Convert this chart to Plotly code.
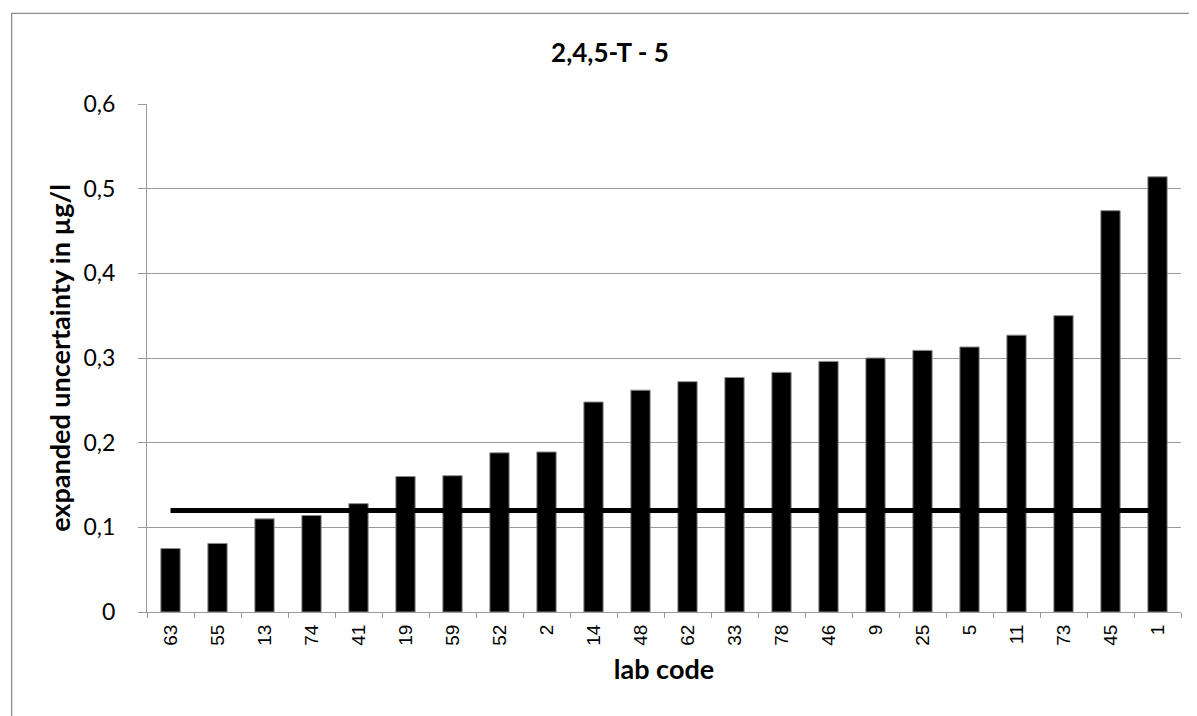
import plotly.graph_objects as go

# ---- data ----
lab_codes = ["63", "55", "13", "74", "41", "19", "59", "52", "2", "14", "48",
             "62", "33", "78", "46", "9", "25", "5", "11", "73", "45", "1"]
expanded_uncertainty = [0.075, 0.081, 0.110, 0.114, 0.128, 0.160, 0.161, 0.188,
                        0.189, 0.248, 0.262, 0.272, 0.277, 0.283, 0.296, 0.300,
                        0.309, 0.313, 0.327, 0.350, 0.474, 0.514]
reference_line = [0.12, 0.12, 0.12, 0.12, 0.12, 0.12, 0.12, 0.12, 0.12, 0.12, 0.12,
                  0.12, 0.12, 0.12, 0.12, 0.12, 0.12, 0.12, 0.12, 0.12, 0.12, 0.12]
y_tick_values = [0, 0.1, 0.2, 0.3, 0.4, 0.5, 0.6]
y_tick_labels = ["0", "0,1", "0,2", "0,3", "0,4", "0,5", "0,6"]

title_text = "2,4,5-T - 5"
x_title = "lab code"
y_title = "expanded uncertainty in µg/l"

# ---- layout geometry (pixels) ----
W, H = 1197, 716
plot_left, plot_right = 139.3, 1172.7
plot_top, plot_bottom = 95.7, 604.3
plot_w = plot_right - plot_left
plot_h = plot_bottom - plot_top

GRAY = "#9a9a9a"
FONT = "Lato"

fig = go.Figure()
fig.add_trace(go.Bar(
    x=lab_codes, y=expanded_uncertainty,
    marker=dict(color="black", line=dict(color="#8c8c8c", width=1)),
    showlegend=False,
))
fig.add_trace(go.Scatter(
    x=lab_codes, y=reference_line, mode="lines",
    line=dict(color="black", width=5),
    showlegend=False,
))

def px_x(x):
    return (x - plot_left) / plot_w

def px_y(y):
    return (plot_bottom - y) / plot_h

fig.update_layout(
    width=W, height=H,
    margin=dict(l=plot_left, r=W - plot_right, t=plot_top, b=H - plot_bottom, pad=0),
    paper_bgcolor="white", plot_bgcolor="white",
    bargap=0.59,
    title=dict(text=f"<b>{title_text}</b>", x=px_x(602), xref="paper",
               y=1 - 45 / H, yref="container", xanchor="center", yanchor="middle",
               font=dict(family=FONT, size=26, color="black")),
    xaxis=dict(
        type="category", tickson="boundaries", ticks="outside", ticklen=5,
        tickcolor=GRAY, tickwidth=1, showline=True, linecolor=GRAY, linewidth=1,
        showgrid=False, tickangle=-90,
        tickfont=dict(family="Liberation Sans", size=19, color="black"),
        ticklabelstandoff=4,
        title=dict(text=f"<b>{x_title}</b>", standoff=15,
                   font=dict(family=FONT, size=27, color="black")),
        fixedrange=True,
    ),
    yaxis=dict(
        range=[0, 0.6], tickvals=y_tick_values, ticktext=y_tick_labels,
        ticks="outside", ticklen=8, tickcolor=GRAY, tickwidth=1,
        showline=True, linecolor=GRAY, linewidth=1,
        showgrid=True, gridcolor=GRAY, gridwidth=1.2, zeroline=False,
        tickfont=dict(family=FONT, size=23, color="black"),
        ticklabelstandoff=18,
        title=dict(text=f"<b>{y_title}</b>", standoff=5,
                   font=dict(family=FONT, size=27, color="black")),
        fixedrange=True,
    ),
    shapes=[dict(type="rect", xref="paper", yref="paper",
                 x0=px_x(4), x1=px_x(W + 10), y0=px_y(5), y1=px_y(H + 10),
                 line=dict(color="#8c8c8c", width=1.3), fillcolor="rgba(0,0,0,0)",
                 layer="below")],
)

fig.write_html("out.html")
